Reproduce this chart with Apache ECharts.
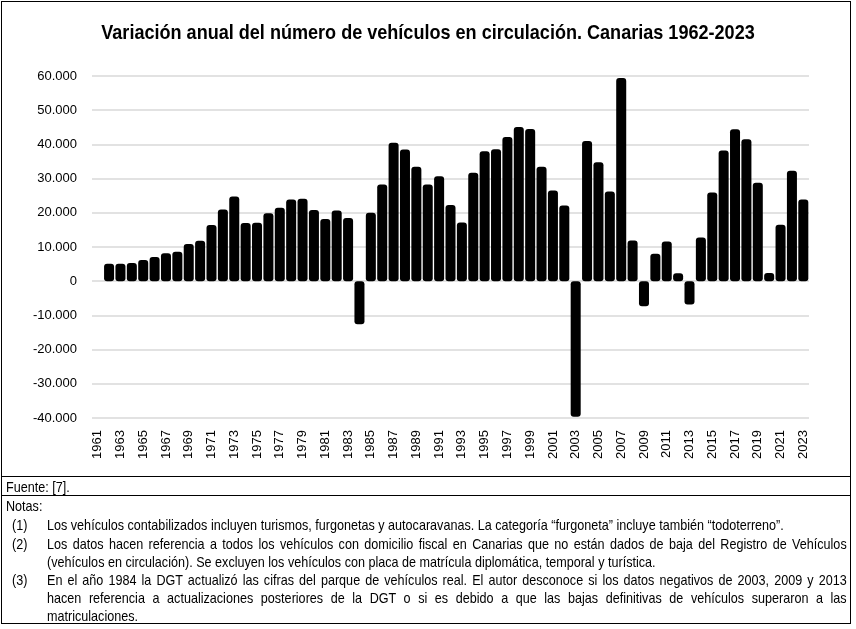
<!DOCTYPE html>
<html>
<head>
<meta charset="utf-8">
<script src="https://cdn.jsdelivr.net/npm/echarts@6/dist/echarts.min.js"></script>
<style>
  html, body { margin: 0; padding: 0; background: #fff; }
  #wrap { position: relative; width: 856px; height: 629px; overflow: hidden; }
  #chart { position: absolute; left: 0; top: 0; width: 856px; height: 629px; }
  .frame { position: absolute; left: 1px; top: 1px; width: 848px; height: 621px; border: 1.5px solid #000; pointer-events: none; }
  .hline { position: absolute; left: 1px; width: 850px; height: 0; border-top: 1.5px solid #000; }
  /* Arial Narrow no está instalada: Liberation Sans comprimida */
  .narrow { font-family: 'Liberation Sans', Arial, sans-serif; transform-origin: 0 0; transform: scaleX(0.84); white-space: nowrap; }
  #title { position: absolute; left: 0; top: 20px; width: 856px; text-align: center; font-size: 21px; font-weight: bold; transform-origin: 50% 0; transform: scaleX(0.86); }
  .ln { position: absolute; font-size: 15px; line-height: 16px; color: #000; }
  .just { text-align: justify; text-align-last: justify; width: 952px; }
</style>
</head>
<body>
<div id="wrap">
  <div id="chart"></div>
  <div id="title" class="narrow">Variación anual del número de vehículos en circulación. Canarias 1962-2023</div>
  <div class="frame"></div>
  <div class="hline" style="top:476px"></div>
  <div class="hline" style="top:495px"></div>

  <div class="ln narrow" style="left:6px; top:479px">Fuente: [7].</div>
  <div class="ln narrow" style="left:6px; top:498px">Notas:</div>

  <div class="ln narrow" style="left:12px; top:517px">(1)</div>
  <div class="ln narrow" style="left:47px; top:517px">Los vehículos contabilizados incluyen turismos, furgonetas y autocaravanas. La categoría “furgoneta” incluye también “todoterreno”.</div>

  <div class="ln narrow" style="left:12px; top:536px">(2)</div>
  <div class="ln narrow just" style="left:47px; top:536px">Los datos hacen referencia a todos los vehículos con domicilio fiscal en Canarias que no están dados de baja del Registro de Vehículos</div>
  <div class="ln narrow" style="left:47px; top:554px">(vehículos en circulación). Se excluyen los vehículos con placa de matrícula diplomática, temporal y turística.</div>

  <div class="ln narrow" style="left:12px; top:572px">(3)</div>
  <div class="ln narrow just" style="left:47px; top:572px">En el año 1984 la DGT actualizó las cifras del parque de vehículos real. El autor desconoce si los datos negativos de 2003, 2009 y 2013</div>
  <div class="ln narrow just" style="left:47px; top:590px">hacen referencia a actualizaciones posteriores de la DGT o si es debido a que las bajas definitivas de vehículos superaron a las</div>
  <div class="ln narrow" style="left:47px; top:608px">matriculaciones.</div>
</div>
<script>
// años 1961-2023 (1961 sin dato)
const years = []
for (let y = 1961; y <= 2023; y++) years.push(String(y))

const variacion = [
  null,
  5100, 5100, 5300, 6200, 7100, 8200, 8600, 10900, 11800,            // 1962-1970
  16400, 21000, 24800, 17000, 17100, 19900, 21500, 23900, 24100, 20800, // 1971-1980
  18200, 20700, 18500, -12600, 20000, 28300, 40500, 38500, 33500, 28300, // 1981-1990
  30700, 22300, 17200, 31700, 38000, 38600, 42200, 45100, 44500, 33500, // 1991-2000
  26500, 22100, -39600, 41000, 34800, 26200, 59400, 11900, -7300, 8000, // 2001-2010
  11600, 2300, -6800, 12800, 25900, 38200, 44400, 41500, 28800, 2400,   // 2011-2020
  16500, 32300, 23900                                                   // 2021-2023
]

const yMin = -40000
const yMax = 60000
const yStep = 10000

const fmt = (v) => {
  const s = String(Math.abs(v)).replace(/\B(?=(\d{3})+(?!\d))/g, '.')
  return (v < 0 ? '-' : '') + s
}

const chart = echarts.init(document.getElementById('chart'))

const option = {
  animation: false,
  backgroundColor: '#fff',
  grid: { left: 92, right: 47, top: 76, bottom: 211, containLabel: false },
  xAxis: {
    type: 'category',
    data: years,
    axisLine: { show: false },
    axisTick: { show: false },
    axisLabel: {
      interval: 1,
      rotate: 90,
      margin: 12,
      color: '#000',
      fontFamily: 'Liberation Sans',
      fontSize: 13
    }
  },
  yAxis: {
    type: 'value',
    min: yMin,
    max: yMax,
    interval: yStep,
    axisLine: { show: false },
    axisTick: { show: false },
    splitLine: { lineStyle: { color: '#d9d9d9', width: 1.5 } },
    axisLabel: {
      formatter: fmt,
      margin: 15,
      color: '#000',
      fontFamily: 'Liberation Sans',
      fontSize: 13
    }
  },
  series: [{
    type: 'bar',
    data: variacion,
    barCategoryGap: '12%',
    itemStyle: { color: '#000', borderRadius: 3 }
  }]
}

chart.setOption(option)
</script>
</body>
</html>
